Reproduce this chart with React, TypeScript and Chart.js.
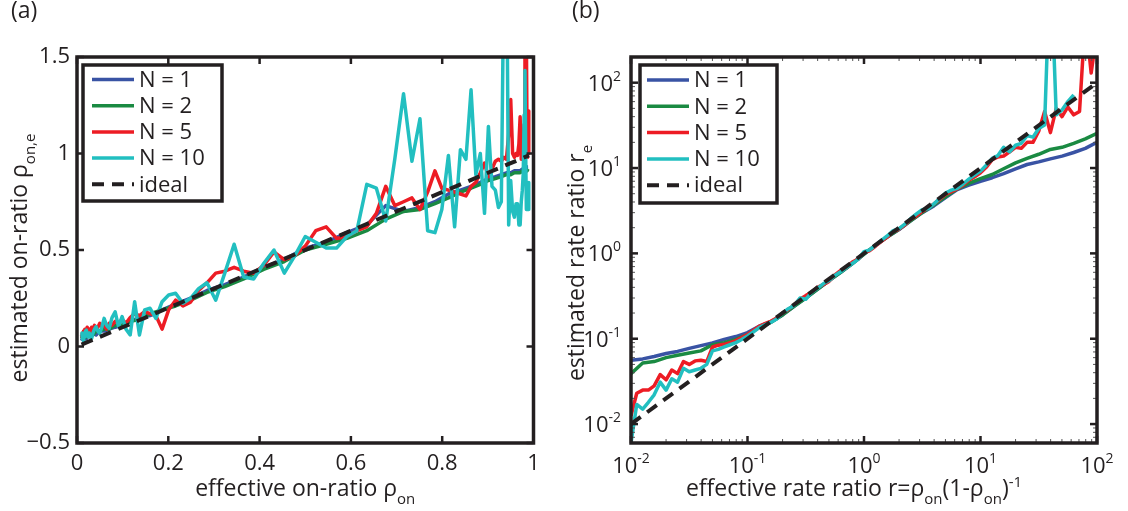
import React, { useEffect, useRef } from 'react';
import { Chart, registerables } from 'chart.js';
Chart.register(...registerables);

const FONT = "'Open Sans', 'Noto Sans', sans-serif";
const INK = '#231f20';
const TICK_SIZE = 22;
const TITLE_SIZE = 23;
const LEGEND_SIZE = 22;

// ---------- shared legend / colours ----------
const seriesLabels = ['N = 1', 'N = 2', 'N = 5', 'N = 10'];
const seriesColors = ['#3953a4', '#1a8a42', '#ed1c24', '#22bfc0'];
const idealLabel = 'ideal';

// ---------- panel (a): on-ratio ----------
const rhoCoarse = [
  0.0099, 0.0119, 0.0143, 0.0171, 0.0205, 0.0245, 0.0293, 0.0350, 0.0418, 0.0499,
  0.0594, 0.0705, 0.0836, 0.0988, 0.1165, 0.1368, 0.1601, 0.1864, 0.2160, 0.2488,
  0.2847, 0.3237, 0.3652, 0.4089, 0.4541, 0.5000, 0.5459, 0.5911, 0.6348, 0.6763,
  0.7153, 0.7513, 0.7841, 0.8136, 0.8399, 0.8632, 0.8835, 0.9012, 0.9164, 0.9295,
  0.9407, 0.9501, 0.9582, 0.9650, 0.9707, 0.9755, 0.9795, 0.9829, 0.9858, 0.9881,
  0.9901,
];
const rhoFine = [
  0.0099, 0.0109, 0.0119, 0.0130, 0.0143, 0.0156, 0.0171, 0.0187, 0.0205, 0.0224,
  0.0245, 0.0268, 0.0293, 0.0321, 0.0350, 0.0383, 0.0418, 0.0457, 0.0499, 0.0544,
  0.0594, 0.0647, 0.0705, 0.0768, 0.0836, 0.0909, 0.0988, 0.1073, 0.1165, 0.1263,
  0.1368, 0.1481, 0.1601, 0.1728, 0.1864, 0.2008, 0.2160, 0.2320, 0.2488, 0.2663,
  0.2847, 0.3039, 0.3237, 0.3442, 0.3652, 0.3869, 0.4089, 0.4314, 0.4541, 0.4770,
  0.5000, 0.5230, 0.5459, 0.5686, 0.5911, 0.6131, 0.6348, 0.6558, 0.6763, 0.6961,
  0.7153, 0.7337, 0.7513, 0.7681, 0.7841, 0.7992, 0.8136, 0.8272, 0.8399, 0.8520,
  0.8632, 0.8737, 0.8835, 0.8927, 0.9012, 0.9091, 0.9164, 0.9232, 0.9295, 0.9353,
  0.9407, 0.9456, 0.9501, 0.9543, 0.9582, 0.9617, 0.9650, 0.9680, 0.9707, 0.9732,
  0.9755, 0.9776, 0.9795, 0.9813, 0.9829, 0.9844, 0.9858, 0.9870, 0.9881, 0.9892,
  0.9901,
];
const rhoEstN1 = [
  0.03, 0.04, 0.03, 0.05, 0.04, 0.06, 0.05, 0.07, 0.06, 0.08,
  0.08, 0.09, 0.10, 0.11, 0.13, 0.15, 0.16, 0.19, 0.22, 0.25,
  0.29, 0.32, 0.36, 0.41, 0.45, 0.51, 0.54, 0.59, 0.63, 0.73,
  0.70, 0.72, 0.75, 0.79, 0.81, 0.83, 0.85, 0.87, 0.88, 0.89,
  0.90, 0.90, 0.91, 0.91, 0.91, 0.92, 0.92, 0.92, 0.93, 0.93,
  0.93,
];
const rhoEstN2 = [
  0.04, 0.05, 0.04, 0.06, 0.05, 0.06, 0.07, 0.06, 0.08, 0.08,
  0.09, 0.09, 0.11, 0.11, 0.13, 0.14, 0.17, 0.19, 0.21, 0.24,
  0.28, 0.31, 0.35, 0.40, 0.44, 0.50, 0.53, 0.56, 0.60, 0.66,
  0.70, 0.71, 0.74, 0.77, 0.80, 0.82, 0.84, 0.86, 0.87, 0.88,
  0.89, 0.89, 0.90, 0.90, 0.90, 0.91, 0.91, 0.91, 0.91, 0.92,
  0.92,
];
const rhoEstN5 = [
  0.06, 0.05, 0.07, 0.06, 0.08, 0.07, 0.09, 0.07, 0.08, 0.10,
  0.08, 0.09, 0.07, 0.10, 0.09, 0.11, 0.09, 0.10, 0.12, 0.10,
  0.11, 0.09, 0.12, 0.11, 0.13, 0.12, 0.14, 0.12, 0.15, 0.17,
  0.16, 0.18, 0.17, 0.16, 0.09, 0.19, 0.24, 0.21, 0.23, 0.29,
  0.33, 0.38, 0.39, 0.41, 0.39, 0.38, 0.42, 0.49, 0.45, 0.47,
  0.52, 0.60, 0.62, 0.56, 0.57, 0.60, 0.62, 0.69, 0.83, 0.73,
  0.75, 0.77, 0.71, 0.80, 0.91, 0.82, 0.81, 0.80, 0.79, 0.78,
  0.83, 0.85, 0.90, 0.95, 0.88, 0.92, 0.96, 0.97, 0.96, 0.98,
  0.97, 1.10, 1.28, 1.00, 0.98, 1.00, 0.99, 1.05, 1.19, 0.97,
  0.99, 1.05, 1.15, 1.48, 1.90, 1.60, 1.10, 0.98, 1.22, 1.00,
  1.02,
];
const rhoEstN10 = [
  0.05, 0.07, 0.04, 0.06, 0.03, 0.07, 0.05, 0.08, 0.085, 0.06,
  0.05, 0.07, 0.05, 0.042, 0.07, 0.09, 0.103, 0.08, 0.068, 0.10,
  0.146, 0.11, 0.094, 0.15, 0.18, 0.103, 0.155, 0.09, 0.06, 0.232,
  0.06, 0.189, 0.198, 0.146, 0.232, 0.267, 0.276, 0.224, 0.25, 0.30,
  0.33, 0.24, 0.38, 0.53, 0.36, 0.35, 0.43, 0.50, 0.38, 0.47,
  0.57, 0.54, 0.51, 0.51, 0.57, 0.60, 0.84, 0.82, 0.65, 0.97,
  1.31, 0.96, 1.18, 0.60, 0.59, 0.71, 0.99, 0.62, 1.02, 0.97,
  1.33, 0.89, 1.00, 0.69, 1.14, 0.83, 0.81, 0.72, 0.75, 2.00,
  2.20, 0.63, 0.86, 0.70, 0.67, 0.74, 0.74, 0.63, 0.63, 0.75,
  0.81, 0.90, 1.20, 1.43, 1.00, 0.71, 0.85, 0.71, 0.71, 0.85,
  0.72,
];
const rhoIdealX = [0.0099, 0.9901];
const rhoIdealY = [0.0099, 0.9901];
const rhoTicksX = [0, 0.2, 0.4, 0.6, 0.8, 1];
const rhoTicksY = [-0.5, 0, 0.5, 1, 1.5];

// ---------- panel (b): rate ratio ----------
const rCoarse = [
  0.01, 0.0126, 0.0158, 0.02, 0.0251, 0.0316, 0.0398, 0.0501, 0.0631, 0.0794,
  0.1, 0.126, 0.158, 0.2, 0.251, 0.316, 0.398, 0.501, 0.631, 0.794,
  1, 1.26, 1.58, 2, 2.51, 3.16, 3.98, 5.01, 6.31, 7.94,
  10, 12.6, 15.8, 20, 25.1, 31.6, 39.8, 50.1, 63.1, 79.4,
  100,
];
const rFine = [
  0.01, 0.0112, 0.0126, 0.0141, 0.0158, 0.0178, 0.02, 0.0224, 0.0251, 0.0282,
  0.0316, 0.0355, 0.0398, 0.0447, 0.0501, 0.0562, 0.0631, 0.0708, 0.0794, 0.0891,
  0.1, 0.112, 0.126, 0.141, 0.158, 0.178, 0.2, 0.224, 0.251, 0.282,
  0.316, 0.355, 0.398, 0.447, 0.501, 0.562, 0.631, 0.708, 0.794, 0.891,
  1, 1.12, 1.26, 1.41, 1.58, 1.78, 2, 2.24, 2.51, 2.82,
  3.16, 3.55, 3.98, 4.47, 5.01, 5.62, 6.31, 7.08, 7.94, 8.91,
  10, 11.2, 12.6, 14.1, 15.8, 17.8, 20, 22.4, 25.1, 28.2,
  31.6, 35.5, 39.8, 44.7, 50.1, 56.2, 63.1, 70.8, 79.4, 89.1,
  100,
];
const rEstN1 = [
  0.056, 0.058, 0.062, 0.067, 0.071, 0.077, 0.083, 0.089, 0.098, 0.106,
  0.118, 0.14, 0.157, 0.19, 0.24, 0.30, 0.38, 0.48, 0.60, 0.76,
  0.98, 1.25, 1.55, 1.9, 2.4, 3.0, 3.6, 4.5, 5.6, 6.3,
  7.0, 7.7, 8.6, 9.8, 11.0, 11.8, 12.8, 13.8, 15.2, 17.0,
  20.0,
];
const rEstN2 = [
  0.039, 0.052, 0.054, 0.060, 0.064, 0.068, 0.072, 0.085, 0.090, 0.098,
  0.112, 0.135, 0.155, 0.19, 0.24, 0.30, 0.38, 0.48, 0.60, 0.76,
  0.98, 1.25, 1.55, 1.92, 2.4, 3.0, 3.7, 4.6, 5.7, 6.6,
  7.5, 8.4, 9.8, 11.5, 13.0, 14.5, 16.5, 17.5, 19.5, 22.0,
  25.5,
];
const rEstN5 = [
  0.0125, 0.023, 0.025, 0.025, 0.028, 0.038, 0.033, 0.043, 0.039, 0.054,
  0.050, 0.055, 0.056, 0.054, 0.080, 0.084, 0.086, 0.090, 0.095, 0.103,
  0.112, 0.125, 0.14, 0.15, 0.16, 0.175, 0.2, 0.22, 0.25, 0.29,
  0.32, 0.35, 0.40, 0.43, 0.47, 0.56, 0.63, 0.68, 0.79, 0.86,
  1.02, 1.08, 1.22, 1.38, 1.55, 1.78, 1.92, 2.15, 2.5, 2.75,
  3.1, 3.4, 3.8, 4.3, 4.9, 5.3, 5.7, 6.3, 7.2, 7.9,
  8.8, 10.2, 12.5, 13.5, 13.8, 15.5, 17.5, 17.0, 20.0, 20.0,
  27, 46, 26, 50, 40, 52, 42, 46, 600, 130,
  400,
];
const rEstN10 = [
  0.006, 0.017, 0.015, 0.018, 0.022, 0.031, 0.025, 0.034, 0.031, 0.045,
  0.041, 0.043, 0.045, 0.050, 0.072, 0.075, 0.080, 0.085, 0.090, 0.098,
  0.108, 0.12, 0.135, 0.145, 0.155, 0.17, 0.2, 0.225, 0.245, 0.30,
  0.29, 0.35, 0.39, 0.44, 0.48, 0.55, 0.61, 0.68, 0.76, 0.85,
  1.05, 1.1, 1.25, 1.42, 1.6, 1.85, 1.95, 2.2, 2.55, 2.9,
  3.25, 3.35, 3.8, 4.4, 5.1, 5.5, 5.8, 6.5, 7.4, 8.3,
  9.2, 10.8, 13.0, 14.0, 17.5, 15.5, 18.5, 19.5, 24, 23,
  29, 32, 3000, 42, 48, 60, 72, null, null, null,
  null,
];
const rIdealX = [0.01, 100];
const rIdealY = [0.01, 100];
const logTicks = [0.01, 0.1, 1, 10, 100];
const logTickExponents = ['-2', '-1', '0', '1', '2'];

// ---------- helpers ----------
type Seg = { t: string; s?: 'sub' | 'sup' };

const lineDs = (label: string, color: string, xs: number[], ys: (number | null)[], order: number) => ({
  label,
  data: xs.map((x, i) => ({ x, y: ys[i] })),
  borderColor: color,
  backgroundColor: color,
  borderWidth: 3.5,
  pointRadius: 0,
  tension: 0,
  fill: false,
  spanGaps: false,
  order,
  borderJoinStyle: 'round',
  borderCapStyle: 'butt',
});

const idealDs = (xs: number[], ys: number[]) => ({
  ...lineDs(idealLabel, INK, xs, ys, 0),
  borderDash: [12, 8],
  borderWidth: 4,
});

function drawRich(ctx: CanvasRenderingContext2D, segs: Seg[], cx: number, base: number, size: number) {
  const small = Math.round(size * 0.64);
  let total = 0;
  const widths = segs.map((s) => {
    ctx.font = `${s.s ? small : size}px ${FONT}`;
    const w = ctx.measureText(s.t).width;
    total += w;
    return w;
  });
  let x = cx - total / 2;
  ctx.textAlign = 'left';
  ctx.textBaseline = 'alphabetic';
  segs.forEach((s, i) => {
    ctx.font = `${s.s ? small : size}px ${FONT}`;
    const dy = s.s === 'sub' ? size * 0.36 : s.s === 'sup' ? -size * 0.4 : 0;
    ctx.fillText(s.t, x, base + dy);
    x += widths[i];
  });
}

function seg(ctx: CanvasRenderingContext2D, x1: number, y1: number, x2: number, y2: number) {
  ctx.beginPath();
  ctx.moveTo(x1, y1);
  ctx.lineTo(x2, y2);
  ctx.stroke();
}

type PanelCfg = {
  panel: string;
  panelX: number;
  xTitle: Seg[];
  xTitleShift: number;
  yTitle: Seg[];
  yTitleX: number;
  yTitleShift: number;
  legend: { dx: number; dy: number; w: number; h: number; row0: number; step: number; sx: number; sl: number; tx: number };
  log: boolean;
};

function minorValues(min: number, max: number) {
  const out: number[] = [];
  for (let d = 0.001; d < 1000; d *= 10) {
    for (let m = 2; m <= 9; m++) {
      const v = m * d;
      if (v > min * 1.0001 && v < max * 0.9999) out.push(v);
    }
  }
  return out;
}

const makePlugin = (cfg: PanelCfg) => ({
  id: 'matlabLook',
  afterDraw(chart: any) {
    const { ctx, chartArea: ca, scales } = chart;
    const xs = scales.x;
    const ys = scales.y;
    ctx.save();
    ctx.setLineDash([]);
    ctx.lineCap = 'butt';

    // minor ticks (log axes)
    if (cfg.log) {
      ctx.strokeStyle = '#555';
      ctx.lineWidth = 1;
      minorValues(xs.min, xs.max).forEach((v) => {
        const p = xs.getPixelForValue(v);
        seg(ctx, p, ca.bottom, p, ca.bottom - 4);
        seg(ctx, p, ca.top, p, ca.top + 4);
      });
      minorValues(ys.min, ys.max).forEach((v) => {
        const p = ys.getPixelForValue(v);
        seg(ctx, ca.left, p, ca.left + 4, p);
        seg(ctx, ca.right, p, ca.right - 4, p);
      });
    }

    // major ticks, inside, all four sides
    ctx.strokeStyle = INK;
    ctx.lineWidth = 2.5;
    xs.ticks.forEach((t: any) => {
      const p = xs.getPixelForValue(t.value);
      seg(ctx, p, ca.bottom, p, ca.bottom - 7);
      seg(ctx, p, ca.top, p, ca.top + 7);
    });
    ys.ticks.forEach((t: any) => {
      const p = ys.getPixelForValue(t.value);
      seg(ctx, ca.left, p, ca.left + 7, p);
      seg(ctx, ca.right, p, ca.right - 7, p);
    });

    // frame
    ctx.lineWidth = 3.5;
    ctx.strokeRect(ca.left, ca.top, ca.right - ca.left, ca.bottom - ca.top);

    // log tick labels with superscripts
    ctx.fillStyle = INK;
    if (cfg.log) {
      const big = TICK_SIZE;
      const sm = 14;
      xs.ticks.forEach((t: any, i: number) => {
        const p = xs.getPixelForValue(t.value);
        ctx.font = `${big}px ${FONT}`;
        const w1 = ctx.measureText('10').width;
        ctx.font = `${sm}px ${FONT}`;
        const w2 = ctx.measureText(logTickExponents[i]).width;
        const x0 = p - (w1 + w2) / 2;
        ctx.textAlign = 'left';
        ctx.textBaseline = 'alphabetic';
        ctx.font = `${big}px ${FONT}`;
        ctx.fillText('10', x0, 473);
        ctx.font = `${sm}px ${FONT}`;
        ctx.fillText(logTickExponents[i], x0 + w1, 463);
      });
      ys.ticks.forEach((t: any, i: number) => {
        const p = ys.getPixelForValue(t.value);
        ctx.font = `${big}px ${FONT}`;
        const w1 = ctx.measureText('10').width;
        ctx.font = `${sm}px ${FONT}`;
        const w2 = ctx.measureText(logTickExponents[i]).width;
        const x0 = ca.left - 10 - w1 - w2;
        ctx.textAlign = 'left';
        ctx.textBaseline = 'alphabetic';
        ctx.font = `${big}px ${FONT}`;
        ctx.fillText('10', x0, p + 8);
        ctx.font = `${sm}px ${FONT}`;
        ctx.fillText(logTickExponents[i], x0 + w1, p - 2);
      });
    }

    // legend box
    const lg = cfg.legend;
    const bx = ca.left + lg.dx;
    const by = ca.top + lg.dy;
    ctx.fillStyle = '#ffffff';
    ctx.fillRect(bx, by, lg.w, lg.h);
    ctx.strokeStyle = INK;
    ctx.lineWidth = 3.5;
    ctx.strokeRect(bx, by, lg.w, lg.h);
    chart.data.datasets.forEach((ds: any, i: number) => {
      const y = by + lg.row0 + i * lg.step;
      ctx.strokeStyle = ds.borderColor;
      ctx.lineWidth = ds.borderWidth;
      ctx.setLineDash(ds.borderDash || []);
      seg(ctx, bx + lg.sx, y, bx + lg.sx + lg.sl, y);
      ctx.setLineDash([]);
      ctx.fillStyle = INK;
      ctx.font = `${LEGEND_SIZE}px ${FONT}`;
      ctx.textAlign = 'left';
      ctx.textBaseline = 'middle';
      ctx.fillText(ds.label, bx + lg.tx, y + 1);
    });

    // axis titles
    ctx.fillStyle = INK;
    drawRich(ctx, cfg.xTitle, (ca.left + ca.right) / 2 + cfg.xTitleShift, 496, TITLE_SIZE);
    ctx.save();
    ctx.translate(cfg.yTitleX, (ca.top + ca.bottom) / 2 + cfg.yTitleShift);
    ctx.rotate(-Math.PI / 2);
    drawRich(ctx, cfg.yTitle, 0, 0, TITLE_SIZE);
    ctx.restore();

    // panel label
    ctx.font = `${TITLE_SIZE}px ${FONT}`;
    ctx.textAlign = 'left';
    ctx.textBaseline = 'alphabetic';
    ctx.fillText(cfg.panel, cfg.panelX, 18);
    ctx.restore();
  },
});

const fmtTick = (v: any) => String(v).replace('-', '\u2212');

const baseScale = {
  grid: { display: false, drawTicks: false },
  border: { display: false },
};

function configA() {
  const datasets = [
    lineDs(seriesLabels[0], seriesColors[0], rhoCoarse, rhoEstN1, 4),
    lineDs(seriesLabels[1], seriesColors[1], rhoCoarse, rhoEstN2, 3),
    lineDs(seriesLabels[2], seriesColors[2], rhoFine, rhoEstN5, 2),
    lineDs(seriesLabels[3], seriesColors[3], rhoFine, rhoEstN10, 1),
    idealDs(rhoIdealX, rhoIdealY),
  ];
  const cfg: PanelCfg = {
    panel: '(a)',
    panelX: 11,
    xTitle: [{ t: 'effective on-ratio \u03c1' }, { t: 'on', s: 'sub' }],
    xTitleShift: 0,
    yTitle: [{ t: 'estimated on-ratio \u03c1' }, { t: 'on,e', s: 'sub' }],
    yTitleX: 27,
    yTitleShift: 8,
    legend: { dx: 6, dy: 8, w: 139, h: 136, row0: 14.5, step: 26.2, sx: 9, sl: 42, tx: 56 },
    log: false,
  };
  return {
    type: 'line',
    data: { datasets },
    options: {
      responsive: false,
      animation: false,
      events: [],
      devicePixelRatio: 1,
      layout: { padding: { left: 0, right: 30.5, top: 57, bottom: 0 } },
      plugins: { legend: { display: false }, tooltip: { enabled: false } },
      scales: {
        x: {
          ...baseScale,
          type: 'linear',
          min: 0,
          max: 1,
          afterBuildTicks: (s: any) => { s.ticks = rhoTicksX.map((v) => ({ value: v })); },
          afterFit: (s: any) => { s.height = 68; },
          ticks: { color: INK, font: { family: FONT, size: TICK_SIZE }, padding: 8, maxRotation: 0, autoSkip: false, callback: fmtTick },
        },
        y: {
          ...baseScale,
          type: 'linear',
          min: -0.5,
          max: 1.5,
          afterBuildTicks: (s: any) => { s.ticks = rhoTicksY.map((v) => ({ value: v })); },
          afterFit: (s: any) => { s.width = 77; },
          ticks: { color: INK, font: { family: FONT, size: TICK_SIZE }, padding: 7, autoSkip: false, callback: fmtTick },
        },
      },
    },
    plugins: [makePlugin(cfg)],
  };
}

function configB() {
  const datasets = [
    lineDs(seriesLabels[0], seriesColors[0], rCoarse, rEstN1, 4),
    lineDs(seriesLabels[1], seriesColors[1], rCoarse, rEstN2, 3),
    lineDs(seriesLabels[2], seriesColors[2], rFine, rEstN5, 2),
    lineDs(seriesLabels[3], seriesColors[3], rFine, rEstN10, 1),
    idealDs(rIdealX, rIdealY),
  ];
  const cfg: PanelCfg = {
    panel: '(b)',
    panelX: 8,
    xTitle: [
      { t: 'effective rate ratio r=\u03c1' },
      { t: 'on', s: 'sub' },
      { t: '(1-\u03c1' },
      { t: 'on', s: 'sub' },
      { t: ')' },
      { t: '-1', s: 'sup' },
    ],
    xTitleShift: -10,
    yTitle: [{ t: 'estimated rate ratio r' }, { t: 'e', s: 'sub' }],
    yTitleX: 20,
    yTitleShift: 13,
    legend: { dx: 9, dy: 8, w: 137, h: 138, row0: 15, step: 26.3, sx: 7, sl: 42, tx: 54 },
    log: true,
  };
  return {
    type: 'line',
    data: { datasets },
    options: {
      responsive: false,
      animation: false,
      events: [],
      devicePixelRatio: 1,
      layout: { padding: { left: 0, right: 31, top: 57, bottom: 0 } },
      plugins: { legend: { display: false }, tooltip: { enabled: false } },
      scales: {
        x: {
          ...baseScale,
          type: 'logarithmic',
          min: 0.01,
          max: 100,
          afterBuildTicks: (s: any) => { s.ticks = logTicks.map((v) => ({ value: v })); },
          afterFit: (s: any) => { s.height = 68; },
          ticks: { display: false },
        },
        y: {
          ...baseScale,
          type: 'logarithmic',
          min: 0.006,
          max: 200,
          afterBuildTicks: (s: any) => { s.ticks = logTicks.map((v) => ({ value: v })); },
          afterFit: (s: any) => { s.width = 67; },
          ticks: { display: false },
        },
      },
    },
    plugins: [makePlugin(cfg)],
  };
}

export default function App() {
  const refA = useRef<HTMLCanvasElement>(null);
  const refB = useRef<HTMLCanvasElement>(null);
  useEffect(() => {
    const a = new Chart(refA.current as HTMLCanvasElement, configA() as any);
    const b = new Chart(refB.current as HTMLCanvasElement, configB() as any);
    return () => {
      a.destroy();
      b.destroy();
    };
  }, []);
  return (
    <div style={{ position: 'absolute', left: 0, top: 0, width: 1128, height: 511, background: '#fff' }}>
      <canvas ref={refA} width={564} height={511} style={{ position: 'absolute', left: 0, top: 0 }} />
      <canvas ref={refB} width={564} height={511} style={{ position: 'absolute', left: 564, top: 0 }} />
    </div>
  );
}
